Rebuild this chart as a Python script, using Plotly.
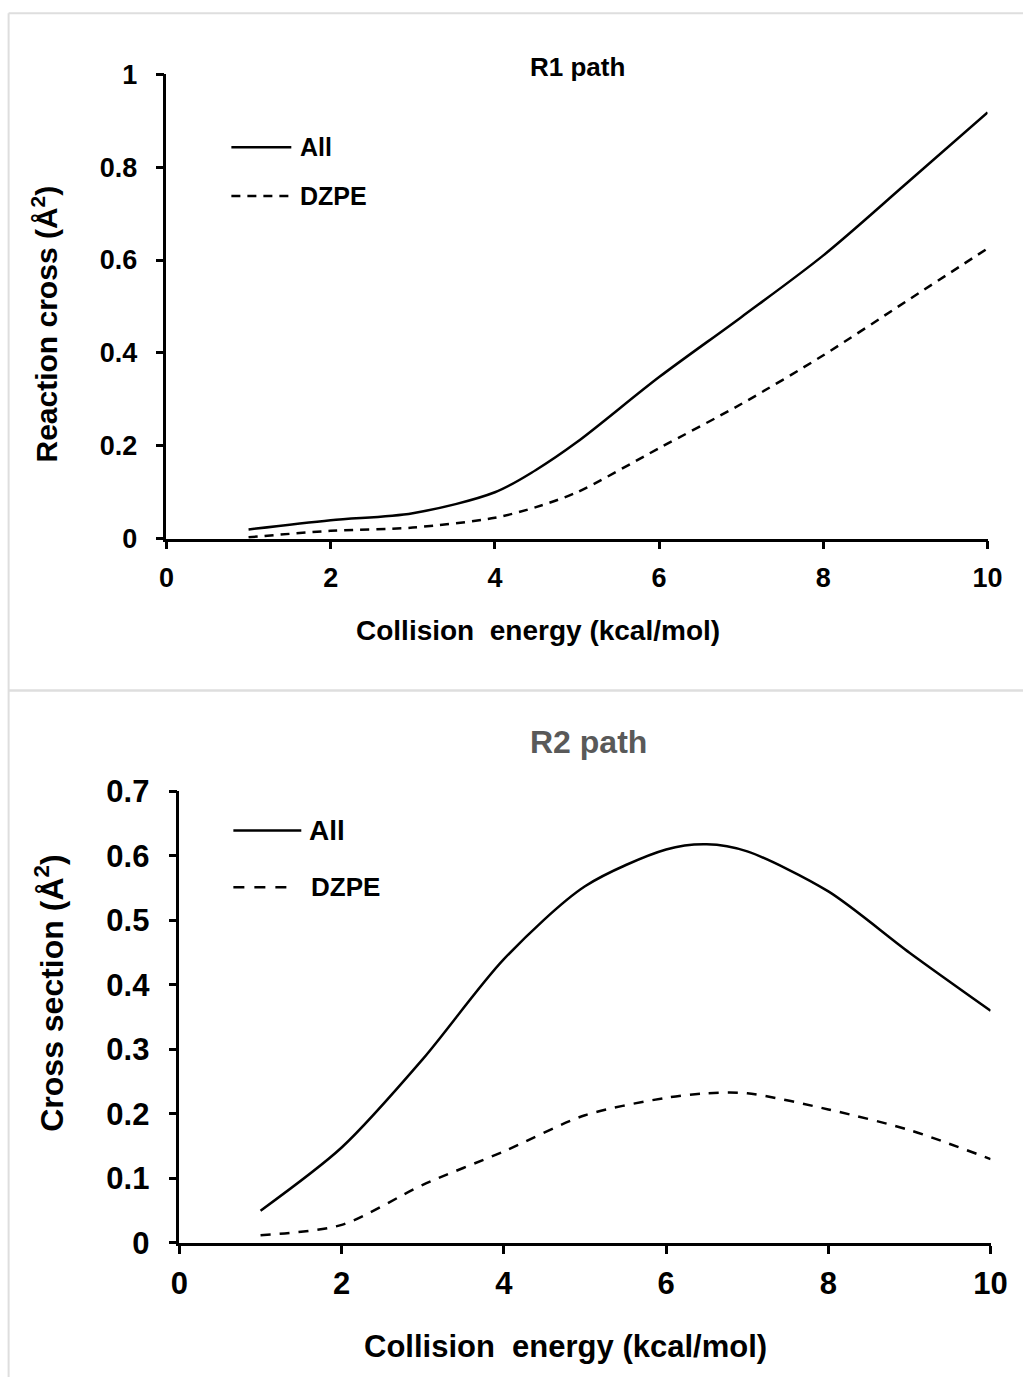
import plotly.graph_objects as go

# Figure canvas and the placement of the layout inside it
W, H = 1040, 1395
OX, OY, S = 7.4, 16.7, 0.976

# Collision energies (kcal/mol)
energy = [1, 2, 3, 4, 4.5, 5, 6, 7, 8, 9, 10]

# R1 path cross sections (Å^2)
r1_all = [0.02, 0.04, 0.055, 0.10, 0.148, 0.208, 0.348, 0.477, 0.61, 0.763, 0.918]
r1_dzpe = [0.003, 0.017, 0.024, 0.045, 0.068, 0.10, 0.195, 0.29, 0.395, 0.51, 0.625]

# R2 path cross sections (Å^2)
energy2 = [1, 2, 3, 4, 5, 6, 6.5, 7, 8, 9, 10]
r2_all = [0.05, 0.148, 0.285, 0.44, 0.553, 0.61, 0.618, 0.607, 0.545, 0.45, 0.36]
r2_dzpe = [0.012, 0.028, 0.09, 0.142, 0.198, 0.225, 0.232, 0.232, 0.207, 0.175, 0.13]

x_ticks = [0, 2, 4, 6, 8, 10]
r1_ticks = [0, 0.2, 0.4, 0.6, 0.8, 1]
r1_tick_text = ["0", "0.2", "0.4", "0.6", "0.8", "1"]
r2_ticks = [0, 0.1, 0.2, 0.3, 0.4, 0.5, 0.6, 0.7]
r2_tick_text = ["0", "0.1", "0.2", "0.3", "0.4", "0.5", "0.6", "0.7"]

FONT = "Liberation Sans, Arial, sans-serif"


def px(x):
    """Layout column -> paper x."""
    return (x - OX) / S / W


def py(y):
    """Layout row -> paper y."""
    return 1 - (y - OY) / S / H


fig = go.Figure()

fig.add_trace(go.Scatter(x=energy, y=r1_all, mode="lines", name="All",
                         line=dict(color="black", width=2.5, shape="spline", smoothing=0.9),
                         xaxis="x", yaxis="y", showlegend=False))
fig.add_trace(go.Scatter(x=energy, y=r1_dzpe, mode="lines", name="DZPE",
                         line=dict(color="black", width=2.5, dash="9px,7px", shape="spline", smoothing=0.8),
                         xaxis="x", yaxis="y", showlegend=False))
fig.add_trace(go.Scatter(x=energy2, y=r2_all, mode="lines", name="All",
                         line=dict(color="black", width=2.5, shape="spline", smoothing=0.8),
                         xaxis="x2", yaxis="y2", showlegend=False))
fig.add_trace(go.Scatter(x=energy2, y=r2_dzpe, mode="lines", name="DZPE",
                         line=dict(color="black", width=2.5, dash="10px,9px", shape="spline", smoothing=0.8),
                         xaxis="x2", yaxis="y2", showlegend=False))

axis_common = dict(showline=True, linecolor="black", linewidth=2.5, ticks="outside",
                   ticklen=8, tickwidth=2.5, tickcolor="black", showgrid=False,
                   zeroline=False, fixedrange=True)

fig.update_layout(
    width=W, height=H,
    margin=dict(l=0, r=0, t=0, b=0, pad=0),
    paper_bgcolor="white", plot_bgcolor="white",
    showlegend=False,
    xaxis=dict(domain=[px(165), px(987)], anchor="y", range=[0, 10],
               tickvals=x_ticks, ticklabelstandoff=5,
               tickfont=dict(family=FONT, size=27, color="black", weight="bold"), **axis_common),
    yaxis=dict(domain=[py(539), py(74)], anchor="x", range=[0, 1],
               tickvals=r1_ticks, ticktext=r1_tick_text, ticklabelstandoff=13,
               tickfont=dict(family=FONT, size=27, color="black", weight="bold"), **axis_common),
    xaxis2=dict(domain=[px(178), px(990)], anchor="y2", range=[0, 10],
                tickvals=x_ticks, ticklabelstandoff=3,
                tickfont=dict(family=FONT, size=31, color="black", weight="bold"), **axis_common),
    yaxis2=dict(domain=[py(1244), py(792)], anchor="x2", range=[0, 0.7],
                tickvals=r2_ticks, ticktext=r2_tick_text, ticklabelstandoff=13,
                tickfont=dict(family=FONT, size=31, color="black", weight="bold"), **axis_common),
)

annotations = [
    dict(text="<b>R1 path</b>", x=px(576), y=py(67), font=dict(size=26, color="black")),
    dict(text="<b>R2 path</b>", x=px(587), y=py(743), font=dict(size=32, color="#595959")),
    dict(text="<b>Collision  energy (kcal/mol)</b>", x=px(537), y=py(631), font=dict(size=28, color="black")),
    dict(text="<b>Collision  energy (kcal/mol)</b>", x=px(564), y=py(1348), font=dict(size=31, color="black")),
    dict(text="<b>Reaction cross (Å<sup>2</sup>)</b>", x=px(43), y=py(324), textangle=-90,
         font=dict(size=30, color="black")),
    dict(text="<b>Cross section (Å<sup>2</sup>)</b>", x=px(48), y=py(994), textangle=-90,
         font=dict(size=32, color="black")),
    # legend labels
    dict(text="<b>All</b>", x=px(297), y=py(147), xanchor="left", font=dict(size=25, color="black")),
    dict(text="<b>DZPE</b>", x=px(297), y=py(196), xanchor="left", font=dict(size=25, color="black")),
    dict(text="<b>All</b>", x=px(306), y=py(831), xanchor="left", font=dict(size=28, color="black")),
    dict(text="<b>DZPE</b>", x=px(308), y=py(888), xanchor="left", font=dict(size=26, color="black")),
]
for a in annotations:
    a.setdefault("xanchor", "center")
    fig.add_annotation(xref="paper", yref="paper", showarrow=False, yanchor="middle",
                       **{k: v for k, v in a.items() if k != "font"},
                       font=dict(family=FONT, **a["font"]))

shapes = [
    # legend keys
    dict(x0=px(230), x1=px(290), y0=py(147), y1=py(147), line=dict(color="black", width=2.5)),
    dict(x0=px(230), x1=px(290), y0=py(196), y1=py(196), line=dict(color="black", width=2.5, dash="9px,7px")),
    dict(x0=px(232), x1=px(300), y0=py(831), y1=py(831), line=dict(color="black", width=2.5)),
    dict(x0=px(232), x1=px(290), y0=py(888), y1=py(888), line=dict(color="black", width=2.5, dash="11px,10px")),
    # panel frame lines
    dict(x0=px(7), x1=1, y0=py(13), y1=py(13), line=dict(color="#dedede", width=2)),
    dict(x0=px(7), x1=px(7), y0=py(13), y1=0, line=dict(color="#dedede", width=2)),
    dict(x0=px(7), x1=1, y0=py(691), y1=py(691), line=dict(color="#dedede", width=2.5)),
]
for s in shapes:
    fig.add_shape(type="line", xref="paper", yref="paper", **s)

fig.write_html("out.html")
